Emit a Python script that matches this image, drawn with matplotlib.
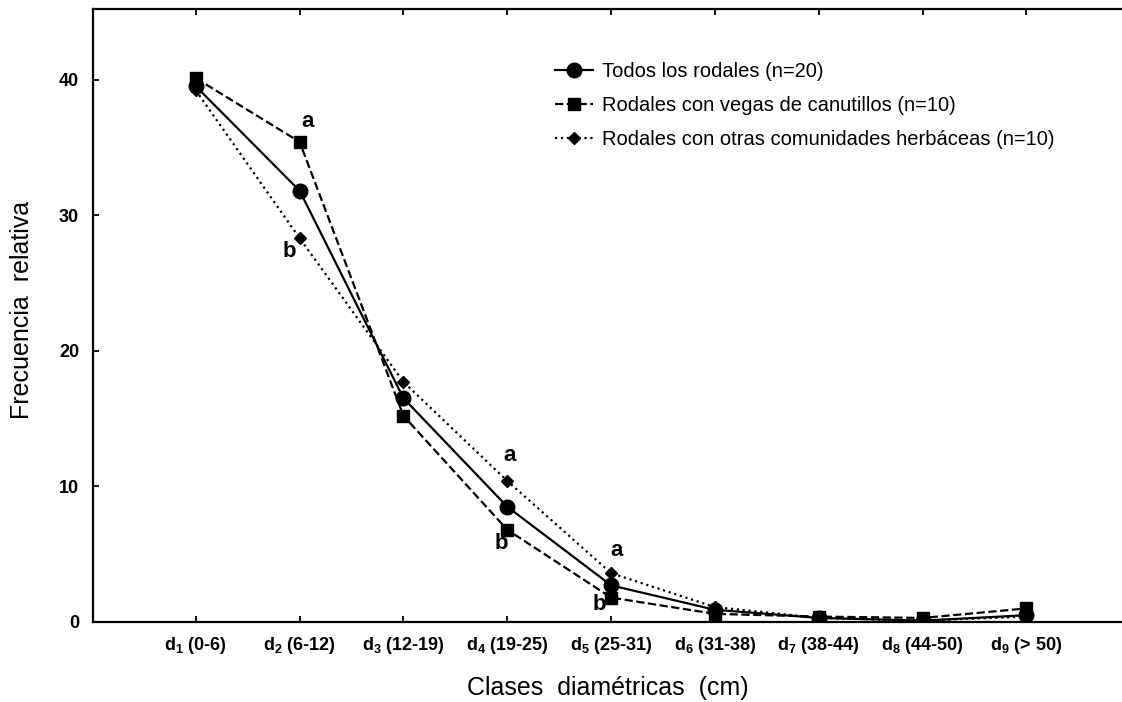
import matplotlib
matplotlib.use("Agg")
import matplotlib.pyplot as plt

plt.rcParams['font.family'] = ['Liberation Sans', 'DejaVu Sans']
plt.rcParams['mathtext.fontset'] = 'custom'
plt.rcParams['mathtext.rm'] = 'Liberation Sans:bold'
plt.rcParams['mathtext.it'] = 'Liberation Sans:bold'
plt.rcParams['mathtext.bf'] = 'Liberation Sans:bold'

classes = ["1", "2", "3", "4", "5", "6", "7", "8", "9"]
ranges = ["(0-6)", "(6-12)", "(12-19)", "(19-25)", "(25-31)", "(31-38)", "(38-44)", "(44-50)", "(> 50)"]
todos = [39.5, 31.8, 16.5, 8.5, 2.7, 0.9, 0.3, 0.1, 0.5]
vegas = [40.1, 35.4, 15.2, 6.8, 1.8, 0.6, 0.4, 0.3, 1.0]
otras = [39.2, 28.3, 17.7, 10.4, 3.6, 1.1, 0.3, 0.1, 0.4]
labels = ["Todos los rodales (n=20)",
          "Rodales con vegas de canutillos (n=10)",
          "Rodales con otras comunidades herbáceas (n=10)"]
letters = [(2.08, 36.9, "a"), (1.9, 27.3, "b"), (4.02, 12.3, "a"), (3.94, 5.8, "b"),
           (5.05, 5.3, "a"), (4.89, 1.3, "b")]

x = list(range(1, len(classes) + 1))
xt = [rf"d$_{c}$ {r}" for c, r in zip(classes, ranges)]

fig = plt.figure(figsize=(11.22, 7.02), dpi=100)
ax = fig.add_axes([93/1122, 80/702, (1122-93)/1122, (622-9)/702])

ax.plot(x, todos, '-', color='black', lw=1.6, marker='o', ms=10.5, label=labels[0], zorder=3)
ax.plot(x, otras, ':', color='black', lw=1.6, marker='D', ms=6.5, label=labels[2], zorder=4)
ax.plot(x, vegas, '--', color='black', lw=1.6, marker='s', ms=9, label=labels[1], zorder=5)

for xi, yi, t in letters:
    ax.text(xi, yi, t, fontsize=16, fontweight='bold', ha='center', va='center')

ax.set_xlim(0.01, 9.92)
ax.set_ylim(0, 45.2)
ax.set_xticks(x)
ax.set_xticklabels(xt, fontsize=13, fontweight='bold')
ax.set_yticks([0, 10, 20, 30, 40])
ax.set_yticklabels(["0", "10", "20", "30", "40"], fontsize=13, fontweight='bold')
ax.tick_params(direction='in', length=4, width=1.3, top=True)
ax.tick_params(axis='x', pad=9)
ax.tick_params(axis='y', pad=10)
for s in ['left', 'bottom', 'top']:
    ax.spines[s].set_linewidth(1.6)
ax.spines['right'].set_visible(False)

ax.set_xlabel("Clases  diamétricas  (cm)", fontsize=18)
ax.xaxis.set_label_coords(0.5, -(688 - 622) / 613)
ax.set_ylabel("Frecuencia  relativa", fontsize=18)
ax.yaxis.set_label_coords(-(93 - 22) / 1029, (622 - 310) / 613)
ax.xaxis.label.set_va('center')
ax.yaxis.label.set_va('center')

h, l = ax.get_legend_handles_labels()
order = [0, 2, 1]
leg = ax.legend([h[i] for i in order], [l[i] for i in order], loc='upper left',
                bbox_to_anchor=(555/1122, 1 - 62/702), bbox_transform=fig.transFigure,
                frameon=False, fontsize=14.5, handlelength=1.9, labelspacing=0.75,
                handletextpad=0.45, borderpad=0, borderaxespad=0)

fig.savefig("out.png", dpi=100)
